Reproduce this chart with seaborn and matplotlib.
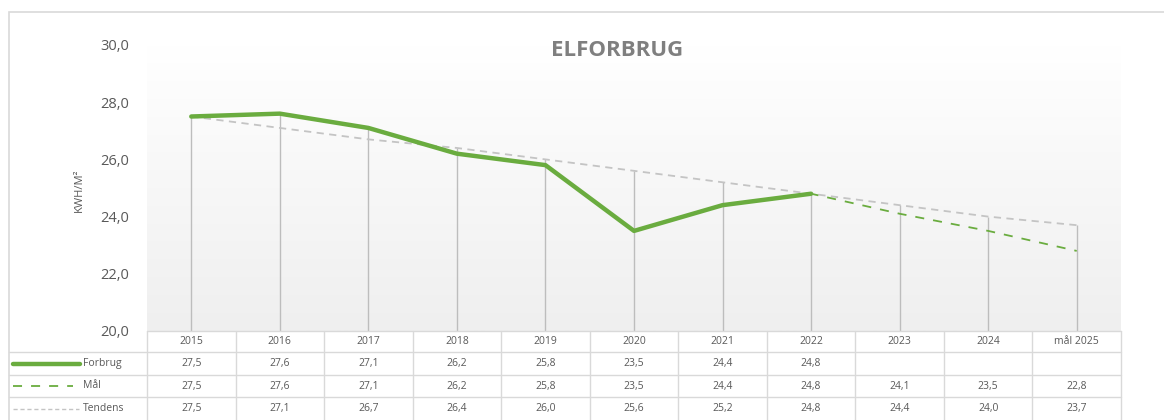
import numpy as np
import pandas as pd
import matplotlib
matplotlib.use("Agg")
import matplotlib.pyplot as plt
import matplotlib.transforms as mtransforms
from matplotlib.lines import Line2D
from matplotlib.patches import Rectangle
import seaborn as sns

categories = ["2015", "2016", "2017", "2018", "2019", "2020", "2021", "2022", "2023", "2024", "mål 2025"]
forbrug = [27.5, 27.6, 27.1, 26.2, 25.8, 23.5, 24.4, 24.8]
maal = [27.5, 27.6, 27.1, 26.2, 25.8, 23.5, 24.4, 24.8, 24.1, 23.5, 22.8]
tendens = [27.5, 27.1, 26.7, 26.4, 26.0, 25.6, 25.2, 24.8, 24.4, 24.0, 23.7]
series_names = ["Forbrug", "Mål", "Tendens"]
yticks = [20.0, 22.0, 24.0, 26.0, 28.0, 30.0]

sns.set_theme(style="white")
plt.rcParams["font.family"] = ["Open Sans", "DejaVu Sans"]

W, H = 1164, 420
fig = plt.figure(figsize=(W / 100, H / 100), dpi=100)
fig.patch.set_facecolor("white")

# outer chart border
fig.patches.append(Rectangle((9 / W, -0.1), 1.2, (H - 12) / H + 0.1, transform=fig.transFigure,
                             fill=False, edgecolor="#d9d9d9", linewidth=1.2))

L, R, B, T = 147, 1121, 331, 45
ax = fig.add_axes([L / W, (H - B) / H, (R - L) / W, (B - T) / H])
ax.set_xlim(-0.5, len(categories) - 0.5)
ax.set_ylim(20, 30)

# gradient background
grad = np.linspace(0, 1, 256).reshape(-1, 1)
ax.imshow(grad, extent=[-0.5, len(categories) - 0.5, 20, 30], aspect="auto",
          cmap=matplotlib.colors.LinearSegmentedColormap.from_list("g", ["#ffffff", "#efefef"]),
          origin="upper", zorder=0, vmin=0, vmax=1)

green = "#6aac3f"
gray = "#c4c4c4"

df_f = pd.DataFrame({"x": range(len(forbrug)), "y": forbrug})
df_m = pd.DataFrame({"x": range(len(maal)), "y": maal})
df_t = pd.DataFrame({"x": range(len(tendens)), "y": tendens})

# drop lines
for i in range(len(categories)):
    vals = [maal[i], tendens[i]] + ([forbrug[i]] if i < len(forbrug) else [])
    ax.vlines(i, 20, max(vals), color="#bdbdbd", linewidth=1.0, zorder=1)

sns.lineplot(data=df_t, x="x", y="y", ax=ax, color=gray, linewidth=1.3, zorder=2)
ax.lines[-1].set_linestyle((0, (4, 3)))
sns.lineplot(data=df_m, x="x", y="y", ax=ax, color=green, linewidth=1.3, zorder=3)
ax.lines[-1].set_linestyle((0, (5, 5)))
sns.lineplot(data=df_f, x="x", y="y", ax=ax, color=green, linewidth=3.2, zorder=4)

ax.set_xticks([])
ax.set_yticks(yticks)
ax.set_yticklabels([f"{v:.1f}".replace(".", ",") for v in yticks], color="#595959", fontsize=10.5)
ax.tick_params(axis="y", length=0, pad=13)
ax.set_xlabel("")
ax.set_ylabel("KWH/M²", color="#595959", fontsize=8)
ax.yaxis.set_label_coords(-62 / (R - L), (B - 190) / (B - T))
for s in ax.spines.values():
    s.set_visible(False)
ax.grid(False)

fig.text(617 / W, (H - 50) / H, "ELFORBRUG", ha="center", va="center", fontsize=16,
         fontweight="bold", color="#7f7f7f")

# data table below the plot
trans = mtransforms.blended_transform_factory(ax.transData, fig.transFigure)
figt = fig.transFigure
row_edges_px = [331, 352, 375, 397, 420]
row_edges = [(H - p) / H for p in row_edges_px]
lc = "#d9d9d9"
n = len(categories)
for j in range(n + 1):
    fig.add_artist(Line2D([j - 0.5, j - 0.5], [row_edges[0], row_edges[-1] - 0.05], transform=trans,
                          color=lc, linewidth=1))
fig.add_artist(Line2D([-0.5, n - 0.5], [row_edges[0]] * 2, transform=trans, color=lc, linewidth=1))
for k in range(1, 4):
    fig.add_artist(Line2D([9 / W, R / W], [row_edges[k]] * 2, transform=figt, color=lc, linewidth=1))

def mid(k):
    return (row_edges[k] + row_edges[k + 1]) / 2

tc = "#595959"
for j, c in enumerate(categories):
    fig.text(j, mid(0), c, transform=trans, ha="center", va="center", fontsize=7.5, color=tc)
rows = [forbrug, maal, tendens]
for k, vals in enumerate(rows):
    for j, v in enumerate(vals):
        fig.text(j, mid(k + 1), f"{v:.1f}".replace(".", ","), transform=trans,
                 ha="center", va="center", fontsize=7.5, color=tc)

key_styles = [
    dict(color=green, linewidth=3.2, linestyle="-", x1=80),
    dict(color=green, linewidth=1.3, linestyle=(0, (5, 5)), x1=73),
    dict(color=gray, linewidth=1.0, linestyle=(0, (3, 2)), x1=79),
]
for k, (name, st) in enumerate(zip(series_names, key_styles)):
    y = mid(k + 1)
    fig.add_artist(Line2D([13 / W, st["x1"] / W], [y, y], transform=figt, color=st["color"],
                          linewidth=st["linewidth"], linestyle=st["linestyle"]))
    fig.text(83 / W, y, name, ha="left", va="center", fontsize=7.5, color=tc)

fig.savefig("out.png", dpi=100)
